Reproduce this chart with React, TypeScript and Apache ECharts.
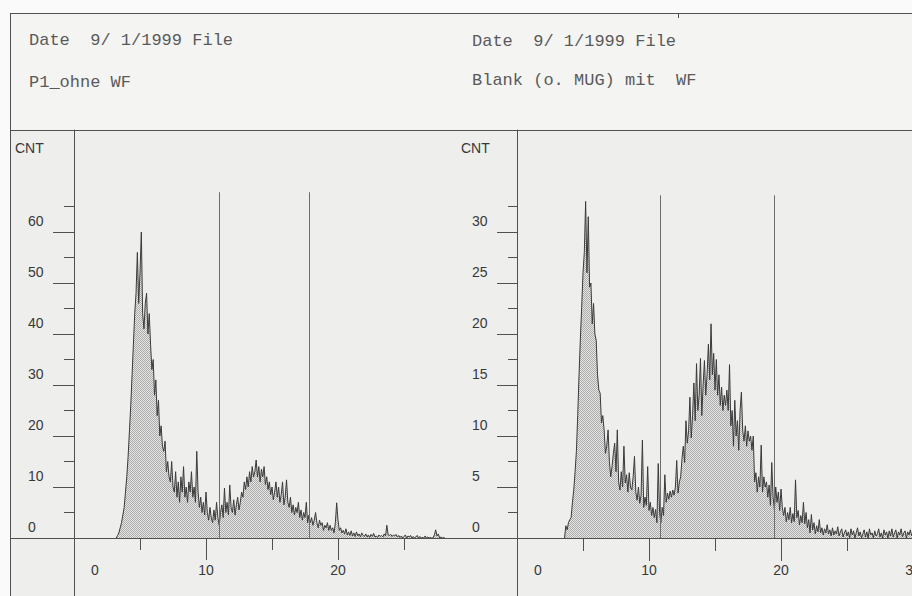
import React, { useEffect, useRef } from 'react';
import * as echarts from 'echarts';

// ---------- data ----------
const STEP = 0.1;

const LEFT_START = 3.2;
const LEFT_COUNTS = [
  0, 0.5, 1, 2, 3, 4.5, 6, 9, 12, 16,
  21, 26, 32, 38, 44, 48, 56, 46, 52, 60,
  44, 41, 46, 48, 40, 44, 38, 33, 35, 28,
  31, 24, 27, 20, 22, 18, 17, 19, 13, 15,
  12, 11, 15, 10, 9, 13, 8, 11, 7, 12,
  9, 14, 8, 10, 7, 11, 9, 13, 8, 10,
  7, 17, 9, 6, 8, 5, 7, 4.5, 9, 5,
  3.5, 6, 4, 3, 5.5, 3.5, 7, 4, 2.5, 5,
  6.5, 4, 9.8, 5, 7, 4.5, 10.4, 6, 5, 7.5,
  4.5, 6.5, 8, 5.5, 7, 9, 8, 11, 9.5, 12,
  10, 13, 11, 14, 12, 13, 15.3, 12, 14, 11,
  13.5, 12, 14, 10.5, 12, 9.5, 11, 8.5, 10, 7.5,
  9, 11, 8, 10, 7, 8.5, 11, 6.5, 8, 11.4,
  7, 6, 8, 5, 6.5, 4.5, 6, 5, 7, 4,
  5.5, 3.5, 5, 4, 7, 3, 4.5, 3, 4, 2.5,
  3.5, 5, 3, 2, 3.5, 2.5, 3, 1.5, 2.5, 2,
  3, 1.5, 2.5, 1.5, 2, 1, 3, 6.9, 3.5, 1.5,
  2, 1, 1.5, 0.8, 1.8, 0.6, 1.2, 0.5, 1.4, 0.4,
  1, 0.3, 1.2, 0.4, 0.8, 0.2, 1, 0.5, 0.3, 0.8,
  0.2, 0.6, 0.1, 0.7, 0.3, 0.9, 0.2, 0.4, 0.1, 0.6,
  0.3, 0.5, 0.2, 0.8, 0.4, 2.5, 0.6, 0.5, 0.7, 0.3,
  0.6, 0.4, 0.7, 0.2, 0.5, 0.1, 0.4, 0, 0.3, 0.6,
  0, 0.4, 0.2, 0.5, 0, 0.3, 0, 0.2, 0.5, 0,
  0.3, 0, 0.1, 0, 0.4, 0, 0.2, 0, 0.1, 0,
  0, 0.6, 1.6, 0.4, 0.8, 0, 0.2, 0, 0.1, 0,
];

const RIGHT_START = 3.6;
const RIGHT_COUNTS = [
  0, 1.2, 0.8, 1.5, 1.8, 2, 3.5, 4.7, 6.5, 8.5,
  12, 16, 19.5, 22.6, 26, 28, 33, 26, 31.5, 24.6,
  25, 21, 23, 20, 19.4, 16, 14.5, 14.2, 11.3, 12,
  10.6, 8.3, 9, 10.6, 7.5, 6, 7, 8.3, 9.3, 6.5,
  10.6, 5.5, 4.7, 6.5, 5, 9, 5.4, 6.2, 4.5, 6.4,
  5, 4.7, 6, 8, 4.5, 3.7, 5, 3.4, 4.2, 9.6,
  3, 4, 3.2, 7, 2.7, 3.5, 2.2, 3, 2, 2.8,
  1.5, 7.3, 2.5, 1.5, 3, 2.2, 6.2, 3.5, 4.4, 3.8,
  4.6, 4, 4.7, 4.2, 5, 7.6, 4.4, 5.5, 6, 7.8,
  9, 7.4, 11.5, 9.3, 10.5, 13.8, 9.8, 12, 15.2, 11.5,
  17.1, 12.5, 14, 17.6, 12, 15, 17.4, 14, 16, 19,
  15.5, 21, 16, 18.1, 14.5, 17.5, 14, 16, 13, 14.8,
  12.5, 14, 13, 14.5, 12.5, 17, 11, 12.5, 9, 13.5,
  10, 11.5, 8.6, 12.5, 14.3, 10.5, 9.5, 11, 9, 10.5,
  9.5, 10, 8.6, 10, 5.5, 6.4, 4.5, 6, 5, 9.1,
  4.5, 6, 5, 5.5, 4, 5.2, 3.2, 7.4, 4, 2.8,
  5, 3.5, 4.5, 2.7, 4.8, 3, 2.2, 3, 1.6, 2.5,
  1.8, 3, 1.5, 2.4, 1.6, 5.7, 2, 2.7, 1.3, 2.2,
  1.5, 3.5, 1.4, 2.5, 1, 1.8, 0.5, 2.3, 0.8, 1.5,
  0.4, 1.2, 0.6, 1.8, 0.5, 1, 0.3, 0.9, 0.5, 1.3,
  0.4, 0.8, 0.2, 1, 0.3, 0.7, 0.4, 1.1, 0.2, 0.6,
  0.9, 0.1, 0.5, 0.8, 0.2, 0.6, 0, 0.9, 0.3, 0.7,
  0, 0.5, 1, 0.2, 0.6, 0, 0.4, 0.8, 0.1, 0.6,
  0, 0.9, 0.3, 0.5, 0, 0.7, 0.2, 0.4, 0.9, 0.1,
  0.5, 0, 0.8, 0.3, 0.6, 0, 0.7, 0.2, 0.9, 0.1,
  0.5, 0.8, 0, 0.6, 0.3, 0.9, 0.1, 0.5, 0.7, 0,
  0.6, 0.3, 0.8, 0.2, 0.5,
];

const LEFT_Y_MAJOR = [0, 10, 20, 30, 40, 50, 60];
const LEFT_Y_MINOR = [5, 15, 25, 35, 45, 55, 65];
const RIGHT_Y_MAJOR = [0, 5, 10, 15, 20, 25, 30];
const RIGHT_Y_MINOR = [2.5, 7.5, 12.5, 17.5, 22.5, 27.5, 32.5];
const LEFT_X_LABELS = [0, 10, 20];
const RIGHT_X_LABELS = [0, 10, 20, 30];
const X_MAJOR = [10, 20];
const X_MINOR = [5, 15, 25];

const LEFT_GATES = [11.0, 17.8];
const LEFT_GATE_TOP = 67.8;
const RIGHT_GATES = [10.85, 19.5];
const RIGHT_GATE_TOP = 33.6;

const LEFT_HEADER = ['Date  9/ 1/1999 File', 'P1_ohne WF'];
const RIGHT_HEADER = ['Date  9/ 1/1999 File', 'Blank (o. MUG) mit  WF'];
const Y_TITLE = 'CNT';

// ---------- styling ----------
const AX = '#505050';
const LBL = '#383838';
const SANS = '"Liberation Sans", Arial, sans-serif';
const MONO = '"Liberation Mono", "Courier New", monospace';
const LABEL_SIZE = 14;

const toPairs = (start: number, arr: number[]) =>
  arr.map((v, i) => [Math.round((start + i * STEP) * 100) / 100, v]);

export default function App() {
  const ref = useRef<HTMLDivElement>(null);

  useEffect(() => {
    if (!ref.current) return;
    const chart = echarts.init(ref.current, undefined, { renderer: 'svg' });

    const c = document.createElement('canvas');
    c.width = 2;
    c.height = 2;
    const g = c.getContext('2d');
    if (g) {
      g.fillStyle = '#e6e6e4';
      g.fillRect(0, 0, 2, 2);
      g.fillStyle = '#ababab';
      g.fillRect(0, 0, 1, 1);
      g.fillRect(1, 1, 1, 1);
    }
    const fillPattern: any = { image: c.toDataURL(), repeat: 'repeat', imageWidth: 2, imageHeight: 2 };

    const xLabelFmt = (v: number) => (v === 0 ? '{z|0}' : String(v));
    const xLabel = (vals: number[]) => ({
      show: true,
      customValues: vals,
      margin: 25,
      fontFamily: SANS,
      fontSize: LABEL_SIZE,
      color: LBL,
      formatter: xLabelFmt,
      rich: { z: { padding: [0, 0, 0, 42], fontFamily: SANS, fontSize: LABEL_SIZE, color: LBL } },
    });
    const yLabel = (vals: number[], margin: number) => ({
      show: true,
      customValues: vals,
      margin,
      align: 'left',
      verticalAlign: 'bottom',
      padding: [0, 0, 4, 0],
      fontFamily: SANS,
      fontSize: LABEL_SIZE,
      color: LBL,
    });
    const minorAxis = (grid: number, max: number, ticks: number[], len: number, pos: string) => ({
      gridIndex: grid,
      type: 'value',
      position: pos,
      min: 0,
      max,
      axisLine: { show: false },
      axisTick: { show: true, customValues: ticks, length: len, lineStyle: { color: AX, width: 1 } },
      axisLabel: { show: false },
      splitLine: { show: false },
    });

    const line = (x1: number, y1: number, x2: number, y2: number, color = AX) => ({
      type: 'line',
      silent: true,
      shape: { x1, y1, x2, y2 },
      style: { stroke: color, lineWidth: 1 },
      z: 1,
    });
    const txt = (x: number, y: number, text: string, font: string, fill: string) => ({
      type: 'text',
      silent: true,
      x,
      y,
      style: { text, font, fill, verticalAlign: 'middle' },
      z: 1,
    });

    const gateLines = (gates: number[], top: number) => ({
      silent: true,
      symbol: ['none', 'none'],
      label: { show: false },
      emphasis: { disabled: true },
      lineStyle: { color: '#6e6e6e', width: 1, type: 'solid' },
      data: gates.map((gx) => [{ coord: [gx, 0] }, { coord: [gx, top] }]),
    });

    chart.setOption({
      animation: false,
      backgroundColor: '#fafafa',
      grid: [
        { left: 74, top: 130, width: 382.8, height: 408, outerBoundsMode: 'none', containLabel: false },
        { left: 517, top: 130, width: 396, height: 408, outerBoundsMode: 'none', containLabel: false },
      ],
      xAxis: [
        {
          gridIndex: 0, type: 'value', position: 'bottom', min: 0, max: 29,
          axisLine: { show: true, lineStyle: { color: AX, width: 1 } },
          axisTick: { show: true, customValues: X_MAJOR, length: 22, lineStyle: { color: AX, width: 1 } },
          axisLabel: xLabel(LEFT_X_LABELS),
          splitLine: { show: false },
        },
        minorAxis(0, 29, X_MINOR, 12, 'bottom'),
        {
          gridIndex: 1, type: 'value', position: 'bottom', min: 0, max: 30,
          axisLine: { show: true, lineStyle: { color: AX, width: 1 } },
          axisTick: { show: true, customValues: X_MAJOR, length: 23, lineStyle: { color: AX, width: 1 } },
          axisLabel: xLabel(RIGHT_X_LABELS),
          splitLine: { show: false },
        },
        minorAxis(1, 30, X_MINOR, 13, 'bottom'),
      ],
      yAxis: [
        {
          gridIndex: 0, type: 'value', position: 'left', min: 0, max: 80,
          axisLine: { show: true, lineStyle: { color: AX, width: 1 } },
          axisTick: { show: true, customValues: LEFT_Y_MAJOR, length: 21, lineStyle: { color: AX, width: 1 } },
          axisLabel: yLabel(LEFT_Y_MAJOR, 46),
          splitLine: { show: false },
        },
        minorAxis(0, 80, LEFT_Y_MINOR, 10, 'left'),
        {
          gridIndex: 1, type: 'value', position: 'left', min: 0, max: 40,
          axisLine: { show: true, lineStyle: { color: AX, width: 1 } },
          axisTick: { show: true, customValues: RIGHT_Y_MAJOR, length: 20, lineStyle: { color: AX, width: 1 } },
          axisLabel: yLabel(RIGHT_Y_MAJOR, 45),
          splitLine: { show: false },
        },
        minorAxis(1, 40, RIGHT_Y_MINOR, 9, 'left'),
      ],
      series: [
        {
          type: 'line',
          name: LEFT_HEADER[1],
          xAxisIndex: 0,
          yAxisIndex: 0,
          data: toPairs(LEFT_START, LEFT_COUNTS),
          showSymbol: false,
          symbol: 'none',
          lineStyle: { color: '#3a3a3a', width: 1 },
          areaStyle: { color: fillPattern, opacity: 1 },
          emphasis: { disabled: true },
          markLine: gateLines(LEFT_GATES, LEFT_GATE_TOP),
          z: 3,
        },
        {
          type: 'line',
          name: RIGHT_HEADER[1],
          xAxisIndex: 2,
          yAxisIndex: 2,
          data: toPairs(RIGHT_START, RIGHT_COUNTS),
          showSymbol: false,
          symbol: 'none',
          lineStyle: { color: '#3a3a3a', width: 1 },
          areaStyle: { color: fillPattern, opacity: 1 },
          emphasis: { disabled: true },
          markLine: gateLines(RIGHT_GATES, RIGHT_GATE_TOP),
          z: 3,
        },
      ],
      graphic: [
        { type: 'rect', silent: true, z: -10, shape: { x: 10, y: 13, width: 902, height: 583 }, style: { fill: '#eeeeec' } },
        { type: 'rect', silent: true, z: -9, shape: { x: 10, y: 13, width: 902, height: 117 }, style: { fill: '#f4f4f2' } },
        line(10, 13.5, 912, 13.5),
        line(10.5, 13, 10.5, 596),
        line(10, 130.5, 912, 130.5),
        line(74.5, 130, 74.5, 596),
        line(517.5, 130, 517.5, 596),
        line(10, 538.5, 912, 538.5),
        line(678.5, 13, 678.5, 18),
        txt(29, 40, LEFT_HEADER[0], `17px ${MONO}`, '#5a5a5a'),
        txt(29, 82, LEFT_HEADER[1], `17px ${MONO}`, '#5a5a5a'),
        txt(472, 41, RIGHT_HEADER[0], `17px ${MONO}`, '#5a5a5a'),
        txt(472, 80, RIGHT_HEADER[1], `17px ${MONO}`, '#5a5a5a'),
        txt(15, 148, Y_TITLE, `14px ${SANS}`, LBL),
        txt(461, 148, Y_TITLE, `14px ${SANS}`, LBL),
      ],
    });

    return () => chart.dispose();
  }, []);

  return <div ref={ref} style={{ position: 'absolute', left: 0, top: 0, width: 912, height: 596 }} />;
}
